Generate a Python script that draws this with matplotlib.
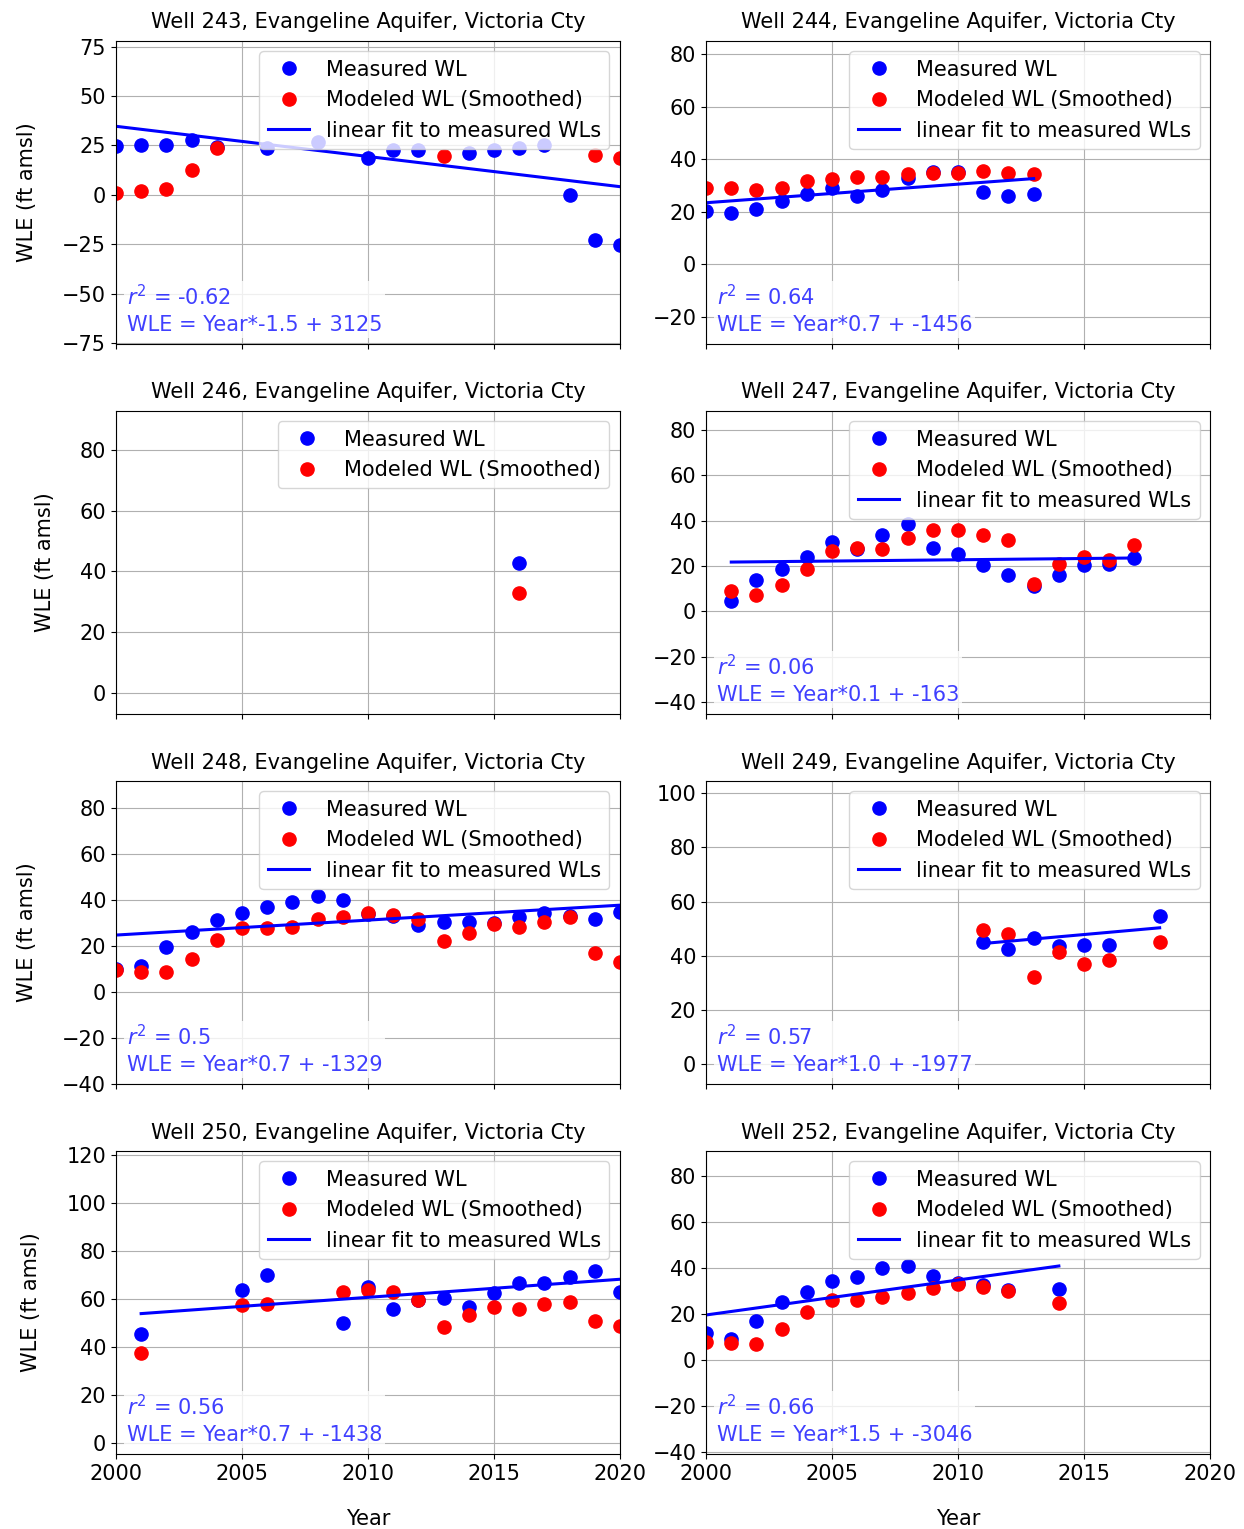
import matplotlib
matplotlib.use("Agg")
import matplotlib.pyplot as plt
from matplotlib.ticker import MultipleLocator

# measured / modeled water-level elevations (ft amsl)
yrs_243 = [2000, 2001, 2002, 2003, 2004, 2006, 2008, 2010, 2011, 2012, 2014, 2015, 2016, 2017, 2018, 2019, 2020]
meas_243 = [24.5, 25.4, 25.4, 27.8, 24, 23.8, 27, 18.9, 22.8, 22.8, 21.3, 22.8, 23.7, 25, 0, -22.8, -25.3]
mod_yrs_243 = [2000, 2001, 2002, 2003, 2004, 2013, 2019, 2020]
mod_243 = [0.9, 2, 2.9, 12.7, 23.7, 19.6, 20.3, 18.6]

yrs_244 = list(range(2000, 2014))
meas_244 = [20.3, 19.6, 21.2, 24.1, 26.6, 29.2, 26, 28.3, 33, 35, 35, 27.5, 26, 26.6]
mod_244 = [29.2, 29.2, 28.3, 29.2, 31.7, 32.3, 33.3, 33.3, 34.2, 34.9, 34.9, 35.5, 34.8, 34.2]

yrs_246 = [2016]
meas_246 = [42.9]
mod_246 = [32.7]

yrs_247 = list(range(2001, 2018))
meas_247 = [4.6, 13.7, 18.8, 23.9, 30.5, 27.5, 33.8, 38.4, 28.1, 25.4, 20.3, 16.2, 11, 15.9, 20.3, 21, 23.5]
mod_247 = [8.8, 7.0, 11.5, 18.8, 26.4, 28.1, 27.6, 32.3, 35.7, 35.7, 33.5, 31.3, 12.2, 21, 23.9, 22.5, 29.4]

yrs_248 = list(range(2000, 2021))
meas_248 = [10, 11.3, 19.7, 26.2, 31.3, 34.2, 36.8, 39.3, 41.8, 40, 34, 33, 29.1, 30.6, 30.6, 30,
            32.7, 34.2, 33, 32, 34.9]
mod_248 = [9.6, 8.8, 8.8, 14.6, 22.6, 27.7, 27.7, 28.4, 31.6, 32.7, 34.2, 33.5, 32, 22.3, 25.8, 29.4,
           28.4, 30.6, 32.5, 16.8, 13.2]

yrs_249 = [2011, 2012, 2013, 2014, 2015, 2016, 2018]
meas_249 = [45.2, 42.6, 46.5, 43.4, 44, 44, 54.5]
mod_249 = [49.5, 47.9, 32.3, 41.2, 36.9, 38.5, 44.9]

yrs_250 = [2001, 2005, 2006, 2009, 2010, 2011, 2012, 2013, 2014, 2015, 2016, 2017, 2018, 2019, 2020]
meas_250 = [45.5, 63.8, 70, 49.9, 65, 56.1, 59.8, 60.5, 56.8, 62.4, 66.9, 66.9, 69.3, 71.7, 63]
mod_250 = [37.4, 57.5, 57.8, 63, 63.8, 63, 59.6, 48.5, 53.6, 56.8, 56.1, 57.8, 58.9, 50.8, 48.9]

yrs_252 = [2000, 2001, 2002, 2003, 2004, 2005, 2006, 2007, 2008, 2009, 2010, 2011, 2012, 2014]
meas_252 = [11.6, 9.1, 17, 25.3, 29.7, 34.5, 36.2, 39.9, 40.9, 36.5, 33.5, 32.5, 30.5, 30.7]
mod_252 = [8, 7.2, 7, 13.3, 21, 26.1, 26.1, 27.5, 29.3, 31.4, 33, 31.9, 30.1, 24.9]

wells = ["243", "244", "246", "247", "248", "249", "250", "252"]
# linear fit value at first / last measured year (None = no fit)
fit_start = [34.7, 23.4, None, 21.7, 24.8, 44.5, 54.0, 19.6]
fit_end = [4.2, 32.6, None, 23.5, 37.8, 50.3, 68.3, 40.9]
r2 = [-0.62, 0.64, None, 0.06, 0.5, 0.57, 0.56, 0.66]
slope = [-1.5, 0.7, None, 0.1, 0.7, 1.0, 0.7, 1.5]
icept = [3125, -1456, None, -163, -1329, -1977, -1438, -3046]
ytick_step = [25, 20, 20, 20, 20, 20, 20, 20]

panels = [
    (yrs_243, meas_243, mod_yrs_243, mod_243),
    (yrs_244, meas_244, yrs_244, mod_244),
    (yrs_246, meas_246, yrs_246, mod_246),
    (yrs_247, meas_247, yrs_247, mod_247),
    (yrs_248, meas_248, yrs_248, mod_248),
    (yrs_249, meas_249, yrs_249, mod_249),
    (yrs_250, meas_250, yrs_250, mod_250),
    (yrs_252, meas_252, yrs_252, mod_252),
]

plt.rcParams['font.size'] = 15

fig, axes = plt.subplots(4, 2, figsize=(12.44, 15.29), dpi=100, sharex=True)
fig.subplots_adjust(left=0.0932, right=0.9727, top=0.9732, bottom=0.049,
                    wspace=0.171, hspace=0.221)

for i, ax in enumerate(axes.flat):
    yrs, meas, myrs, mod = panels[i]
    ax.plot(yrs, meas, 'o', color='blue', ms=9.5, label='Measured WL')
    ax.plot(myrs, mod, 'o', color='red', ms=9.5, label='Modeled WL (Smoothed)')
    if fit_start[i] is not None:
        ax.plot([yrs[0], yrs[-1]], [fit_start[i], fit_end[i]], color='blue', lw=2.2,
                label='linear fit to measured WLs')
        txt = f"$r^2$ = {r2[i]}\nWLE = Year*{slope[i]} + {icept[i]}"
        ax.text(0.022, 0.03, txt, transform=ax.transAxes, color='blue', alpha=0.75,
                fontsize=15, va='bottom', ha='left', linespacing=1.35,
                bbox=dict(facecolor='white', edgecolor='none', alpha=0.8, pad=2))
    ax.set_xlim(2000, 2020)
    ax.set_ylim(min(meas) - 50, max(meas) + 50)
    ax.yaxis.set_major_locator(MultipleLocator(ytick_step[i]))
    ax.set_xticks([2000, 2005, 2010, 2015, 2020])
    ax.grid(True)
    ax.set_title(f"Well {wells[i]}, Evangeline Aquifer, Victoria Cty", fontsize=15, pad=9)
    ax.legend(loc='upper right', fontsize=15)
    if i % 2 == 0:
        ax.set_ylabel("WLE (ft amsl)", labelpad=18)
    if i >= 6:
        ax.set_xlabel("Year", labelpad=18)

fig.savefig("out.png", dpi=100)
